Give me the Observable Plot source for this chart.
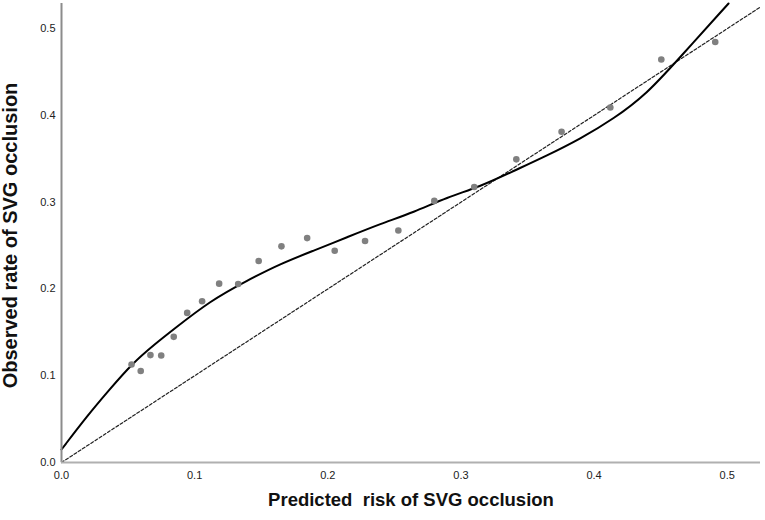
<!DOCTYPE html>
<html>
<head>
<meta charset="utf-8">
<script src="https://cdn.jsdelivr.net/npm/d3@7"></script>
<script src="https://cdn.jsdelivr.net/npm/@observablehq/plot@0.6"></script>
<style>
  html, body { margin: 0; padding: 0; background: #fff; }
  #chart svg { display: block; font-family: Arial, "Liberation Sans", sans-serif; }
</style>
</head>
<body>
<div id="chart"></div>
<script>
// Observed points (predicted risk, observed rate)
const predicted = [0.0526, 0.0595, 0.0668, 0.0749, 0.0843, 0.0944, 0.1056, 0.1184, 0.1327, 0.1481, 0.1652, 0.1845, 0.2052, 0.228, 0.253, 0.280, 0.310, 0.3416, 0.3756, 0.4122, 0.4505, 0.491];
const observed  = [0.113, 0.1054, 0.1238, 0.1233, 0.1448, 0.1724, 0.1859, 0.2061, 0.2057, 0.2322, 0.2491, 0.2586, 0.244, 0.2552, 0.2674, 0.3015, 0.3176, 0.3494, 0.3812, 0.4092, 0.4644, 0.4847];

// Fitted calibration curve
const curveX = [0, 0.0205, 0.0355, 0.053, 0.0706, 0.083, 0.1119, 0.1394, 0.1644, 0.1894, 0.2145, 0.2395, 0.2645, 0.2896, 0.3146, 0.3396, 0.3646, 0.3896, 0.4147, 0.4397, 0.4622, 0.501];
const curveY = [0.015, 0.056, 0.083, 0.114, 0.137, 0.152, 0.1866, 0.2097, 0.229, 0.2442, 0.2596, 0.275, 0.2884, 0.3056, 0.318, 0.336, 0.3537, 0.373, 0.396, 0.425, 0.463, 0.529];

// Reference (ideal) diagonal
const diagX = [0, 0.525];
const diagY = [0, 0.525];

const xTicks = [0, 0.1, 0.2, 0.3, 0.4, 0.5];
const yTicks = [0, 0.1, 0.2, 0.3, 0.4, 0.5];
const xTitle = "Predicted  risk of SVG occlusion";
const yTitle = "Observed rate of SVG occlusion";

const points = predicted.map((x, i) => ({x, y: observed[i]}));
const curve = curveX.map((x, i) => ({x, y: curveY[i]}));
const diag = diagX.map((x, i) => ({x, y: diagY[i]}));

const chart = Plot.plot({
  width: 765,
  height: 520,
  marginLeft: 61,
  marginRight: 5,
  marginTop: 3,
  marginBottom: 58,
  style: {fontFamily: "Arial, 'Liberation Sans', sans-serif", fontSize: "11px", color: "#222"},
  x: {domain: [0, 0.525]},
  y: {domain: [0, 0.529]},
  marks: [
    Plot.axisX({ticks: xTicks, tickSize: 0, tickPadding: 9, tickFormat: d3.format(".1f"), label: null, fontSize: 11}),
    Plot.axisY({ticks: yTicks, tickSize: 0, tickPadding: 6, tickFormat: d3.format(".1f"), label: null, fontSize: 11}),
    Plot.line(diag, {x: "x", y: "y", stroke: "#222", strokeWidth: 1.2, strokeDasharray: "3,2"}),
    Plot.line(curve, {x: "x", y: "y", stroke: "#000", strokeWidth: 2, curve: "basis"}),
    Plot.dot(points, {x: "x", y: "y", r: 3.3, fill: "#808080", stroke: "none"}),
    Plot.ruleX([0], {stroke: "#8c8c8c", strokeWidth: 2}),
    Plot.ruleY([0], {stroke: "#b0b0b0", strokeWidth: 2}),
    Plot.text([xTitle], {frameAnchor: "bottom", dy: 43, text: d => d, fontSize: 18.5, fontWeight: "bold", fill: "#111"}),
    Plot.text([yTitle], {frameAnchor: "left", textAnchor: "middle", dx: -51, dy: 2.5, rotate: -90, text: d => d, fontSize: 20, fontWeight: "bold", fill: "#111"})
  ]
});
document.getElementById("chart").appendChild(chart);
</script>
</body>
</html>
